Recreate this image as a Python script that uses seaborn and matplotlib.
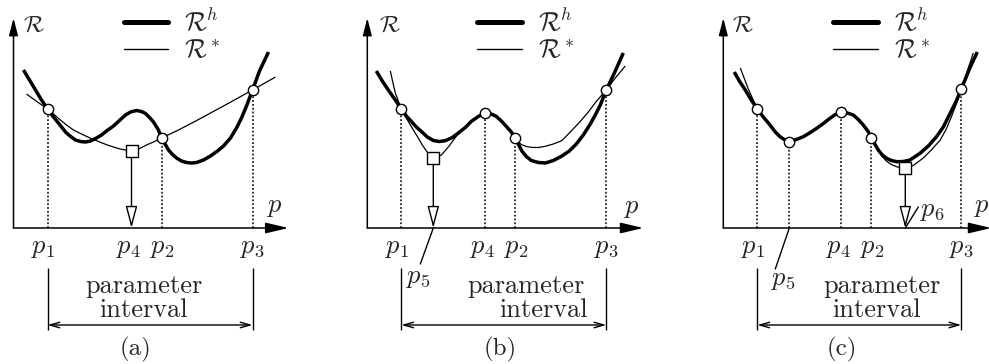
import matplotlib
matplotlib.use("Agg")
import matplotlib.pyplot as plt
from matplotlib.lines import Line2D
import seaborn as sns

sns.set_theme(style="white")
plt.rcParams["mathtext.fontset"] = "cm"
plt.rcParams["font.family"] = ["cmr10", "DejaVu Sans"]
plt.rcParams["axes.unicode_minus"] = False
plt.rcParams["axes.formatter.use_mathtext"] = True

# ---------------- panel (a) ----------------
a_rh_p = [10, 16, 22, 28, 34, 40, 46.5, 52, 56.5, 62, 67, 72, 77, 83, 88, 93, 100, 106.5, 112, 117,
          123, 128, 132, 136, 140, 144.8, 148, 151, 155, 159, 163, 168, 173, 178, 183, 190, 197,
          204, 210, 217, 223, 228, 233, 239, 246, 255]
a_rh_r = [158, 148, 138, 128, 119, 111, 103, 96, 92, 88, 86.5, 86, 87, 90, 93, 97, 102, 108, 113, 116,
          117.5, 116.5, 114.5, 110.5, 106, 98.3, 90, 85, 78, 73.5, 70, 67, 65.5, 65, 65.5, 68, 72,
          77, 82, 90, 100, 110, 122, 138, 157, 176]
a_rs_p = [13, 24, 34, 40, 46.5, 53, 60, 68, 76.5, 85, 93, 100, 106.5, 112, 118, 125, 133, 141, 148,
          165, 186, 210, 239, 262]
a_rs_r = [134, 126, 119, 114, 108.3, 103, 98, 94, 90, 86.5, 83.3, 81, 79, 78, 77.3, 79, 83, 86.5, 90,
          98, 109, 122, 138, 151]
a_sample_p = [34, 148, 239]
a_sample_r = [119, 90, 138]
a_new_p, a_new_r = 118, 77
a_tick_p = [34, 118, 148, 239]
a_tick_lab = ["$p_1$", "$p_4$", "$p_2$", "$p_3$"]

# ---------------- panel (b) ----------------
b_rh_p = [9, 15, 21, 28, 34, 39, 44, 49, 54, 60, 66, 72, 78, 85, 91, 98, 104, 111, 118, 124, 129,
          134, 139, 144, 148, 151, 154.5, 159, 164, 171, 178, 186, 194, 202, 209, 216, 223, 228,
          233, 239, 248, 256]
b_rh_r = [157, 147, 138, 128, 119, 112, 106.6, 101, 96.6, 91, 87.5, 86.5, 87.3, 90.5, 95, 100.5,
          106.6, 111.5, 115, 114, 111.6, 107, 101.6, 96, 90, 84, 77, 71.5, 67.5, 65.5, 65, 67.5,
          71.6, 77, 84, 93, 104, 113, 123, 138, 157, 175]
b_rs_p = [23, 28, 34, 37, 41, 46, 51, 55, 59.4, 63, 66, 70, 74.4, 81, 87.7, 94, 98, 104, 111, 118,
          124, 129, 134, 139, 144, 148, 151, 154.4, 159, 164.4, 171, 177.7, 186, 194.4, 203, 213,
          221, 229, 239, 248, 258]
b_rs_r = [157, 135, 119, 113, 106.6, 98, 90, 83, 76.6, 72, 70, 71, 73.3, 81, 90, 98, 100.5, 106.6,
          111.5, 115, 114, 111.6, 107, 101.6, 96, 90, 86, 83.3, 81.5, 80.6, 80.5, 81.6, 84, 87.3,
          96, 106.6, 116, 126.6, 138, 150, 162]
b_sample_p = [34, 118, 148, 239]
b_sample_r = [119, 115, 90, 138]
b_new_p, b_new_r = 66, 70
b_tick_p = [34, 118, 148, 239]
b_tick_lab = ["$p_1$", "$p_4$", "$p_2$", "$p_3$"]

# ---------------- panel (c) ----------------
c_rh_p = [11, 16, 22, 28, 34, 40, 46.7, 52, 56.7, 61, 66, 73, 80, 87, 93.4, 100, 106.7, 112, 118.4,
          124, 130, 135, 140, 144.5, 148.4, 151.5, 155, 159, 163.4, 168, 173.4, 180, 186.7, 196.7,
          205, 213, 220, 227, 233, 238, 247, 254]
c_rh_r = [156, 147, 138, 128, 119, 111, 103, 96, 91.3, 88.5, 86.3, 88.5, 91.3, 95.5, 99.7, 104.5,
          109.7, 113.5, 115.7, 115, 113, 108.5, 103, 97, 90.3, 84, 78, 73, 69.7, 67.5, 66.3, 66.5,
          68, 74.7, 82, 91, 101, 115, 127, 139, 161, 176]
c_rs_p = [17, 25, 34, 40, 46.7, 52, 56.7, 61, 66, 73, 80, 87, 93.4, 100, 106.7, 112, 118.4, 124, 130,
          135, 140, 144.5, 148.4, 151.5, 155, 159, 163, 168, 174, 182, 190, 200, 208, 217, 223, 228,
          233, 238, 244, 250]
c_rs_r = [160, 139, 119, 111, 103, 96, 91.3, 88.5, 86.3, 88.5, 91.3, 95.5, 99.7, 104.5, 109.7, 113.5,
          115.7, 115, 113, 108.5, 103, 97, 90.3, 83.5, 77, 71.5, 67, 63.5, 61, 60, 62.5, 70, 78, 88,
          99, 111, 124, 139, 157, 175]
c_sample_p = [34, 66, 118, 148, 238]
c_sample_r = [119, 86.3, 115.7, 90.3, 139]
c_new_p, c_new_r = 182, 60
c_tick_p = [34, 118, 148, 238]
c_tick_lab = ["$p_1$", "$p_4$", "$p_2$", "$p_3$"]

PANELS = [
    dict(rh=(a_rh_p, a_rh_r), rs=(a_rs_p, a_rs_r), samp=(a_sample_p, a_sample_r),
         new=(a_new_p, a_new_r), ticks=(a_tick_p, a_tick_lab), caption="(a)",
         left=0, ox=13.5, width=330, xtip=275, plab=(261.5, 21), rlab=20,
         par=(130, 130), cap=121.5, extra=[]),
    dict(rh=(b_rh_p, b_rh_r), rs=(b_rs_p, b_rs_r), samp=(b_sample_p, b_sample_r),
         new=(b_new_p, b_new_r), ticks=(b_tick_p, b_tick_lab), caption="(b)",
         left=330, ox=367.3, width=330, xtip=276, plab=(264.5, 20), rlab=22.7,
         par=(159, 176), cap=132.7,
         extra=[("$p_5$", (51, -50), (66, 0), (53, -36))]),
    dict(rh=(c_rh_p, c_rh_r), rs=(c_rs_p, c_rs_r), samp=(c_sample_p, c_sample_r),
         new=(c_new_p, c_new_r), ticks=(c_tick_p, c_tick_lab), caption="(c)",
         left=660, ox=723.3, width=329, xtip=268, plab=(258.5, 21), rlab=20,
         par=(159, 153), cap=118.4,
         extra=[("$p_5$", (60, -52), (66, 0), (52, -41)),
                ("$p_6$", (209, 17), (182, 0), (195, 21))]),
]

# horizontal nudges of the four axis labels (p1, p4, p2, p3)
LABEL_SHIFT = [-4, -3, 1, 0]

W, H, OY = 989, 364, 228
FS = 19
fig = plt.figure(figsize=(W / 100, H / 100), dpi=100)

for pan in PANELS:
    ax = fig.add_axes([pan["left"] / W, 0, pan["width"] / W, 1])
    ax.set_xlim(pan["left"] - pan["ox"], pan["left"] + pan["width"] - pan["ox"])
    ax.set_ylim(OY - H, OY)
    ax.axis("off")

    # coordinate axes with filled arrow heads
    ax.annotate("", xy=(0, 210), xytext=(0, 0),
                arrowprops=dict(arrowstyle="-|>,head_length=1.05,head_width=0.27",
                                color="black", lw=1.1, shrinkA=0, shrinkB=0,
                                mutation_scale=10), annotation_clip=False)
    ax.annotate("", xy=(pan["xtip"], 0), xytext=(0, 0),
                arrowprops=dict(arrowstyle="-|>,head_length=1.4,head_width=0.33",
                                color="black", lw=1.1, shrinkA=0, shrinkB=0,
                                mutation_scale=10), annotation_clip=False)
    ax.text(pan["rlab"], 203, r"$\mathcal{R}$", fontsize=17, ha="center", va="center")
    ax.text(*pan["plab"], "$p$", fontsize=FS, ha="center", va="center")

    # dotted drop lines at the evaluated parameters
    sp, sr = pan["samp"]
    ax.vlines(sp, 0, sr, colors="black", linestyles=(0, (1.2, 1.3)), lw=1.1)

    # response curves
    sns.lineplot(x=pan["rs"][0], y=pan["rs"][1], ax=ax, color="black", lw=0.9,
                 sort=False, estimator=None)
    sns.lineplot(x=pan["rh"][0], y=pan["rh"][1], ax=ax, color="black", lw=2.5,
                 sort=False, estimator=None)
    for ln in ax.get_lines():
        ln.set_solid_joinstyle("round")
        ln.set_solid_capstyle("butt")

    # new parameter: hollow arrow from the minimum down to the axis
    npv, nrv = pan["new"]
    ax.annotate("", xy=(npv, 0), xytext=(npv, nrv - 6),
                arrowprops=dict(arrowstyle="-|>,head_length=1.35,head_width=0.36",
                                fc="white", ec="black", lw=1.0, shrinkA=0, shrinkB=0,
                                mutation_scale=10))
    sns.scatterplot(x=sp, y=sr, ax=ax, marker="o", s=55, color="white",
                    edgecolor="black", linewidth=1.0, zorder=5)
    sns.scatterplot(x=[npv], y=[nrv], ax=ax, marker="s", s=85, color="white",
                    edgecolor="black", linewidth=1.0, zorder=5)

    # parameter labels
    tp, tl = pan["ticks"]
    for x, lab, dx in zip(tp, tl, LABEL_SHIFT):
        ax.text(x + dx, -20, lab, fontsize=FS, ha="center", va="center")
    for lab, pos, l0, l1 in pan["extra"]:
        ax.plot([l0[0], l1[0]], [l0[1], l1[1]], color="black", lw=1.0)
        ax.text(*pos, lab, fontsize=FS, ha="center", va="center")

    # parameter interval bracket
    p_lo, p_hi = tp[0], tp[-1]
    ax.vlines([p_lo, p_hi], -102, -40, colors="black", lw=1.0)
    ax.annotate("", xy=(p_hi, -97), xytext=(p_lo, -97),
                arrowprops=dict(arrowstyle="<->,head_length=0.7,head_width=0.2",
                                color="black", lw=1.0, shrinkA=0, shrinkB=0,
                                mutation_scale=10))
    ax.text(pan["par"][0], -58, "parameter", fontsize=FS, ha="center", va="center")
    ax.text(pan["par"][1], -82, "interval", fontsize=FS, ha="center", va="center")
    ax.text(pan["cap"], -121, pan["caption"], fontsize=18, ha="center", va="center")

    # legend
    handles = [Line2D([], [], color="black", lw=3.6), Line2D([], [], color="black", lw=1.0)]
    ax.legend(handles, [r"$\mathcal{R}^h$", r"$\mathcal{R}^*$"], loc="upper left",
              bbox_to_anchor=(110, 220), bbox_transform=ax.transData, frameon=False,
              fontsize=18.5, handlelength=1.75, handletextpad=0.6, labelspacing=0.12,
              borderpad=0, borderaxespad=0)

fig.savefig("out.png", dpi=100)
